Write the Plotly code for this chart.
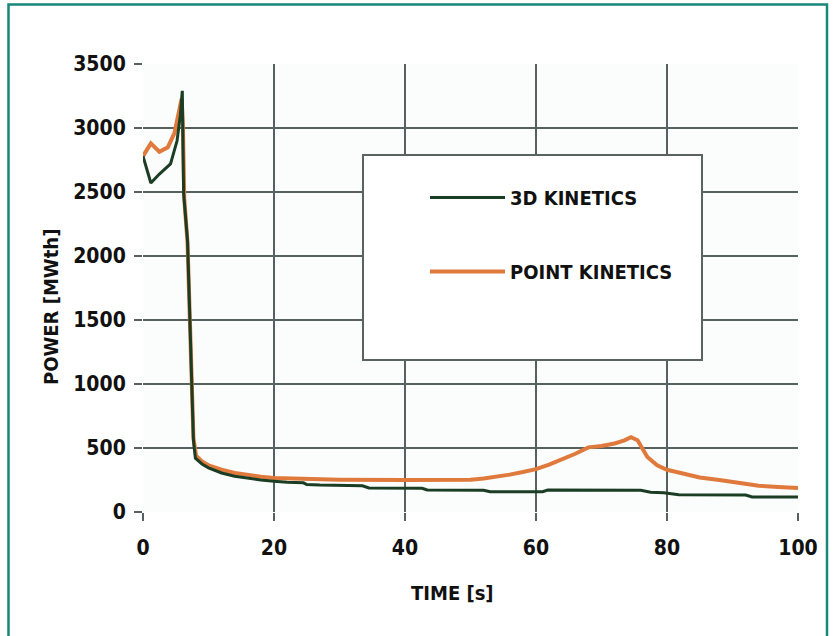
import plotly.graph_objects as go

# ---- data ----
t_3d = [0, 1.2, 2.5, 4.2, 5.2, 5.7, 6.0, 6.2, 6.8, 7.2, 7.7, 8.0, 9, 10, 12, 14, 16, 18, 20, 22,
        24.5, 25, 27, 33.5, 34.5, 42.6, 43.4, 52, 53, 61, 61.8, 76, 77.5, 79.5, 81.8, 92, 93, 100]
p_3d = [2780, 2570, 2640, 2720, 2900, 3100, 3290, 2490, 2120, 1480, 560, 420, 375, 345, 305, 280, 262, 250, 240, 232,
        228, 215, 210, 205, 188, 185, 172, 170, 158, 158, 172, 170, 155, 150, 135, 133, 118, 118]

t_pk = [0, 0.6, 1.2, 2.5, 3.8, 4.8, 5.5, 5.9, 6.1, 6.3, 6.8, 7.2, 7.7, 8.1, 9, 10, 12, 14, 16, 18, 20, 25, 30,
        40, 50, 52, 54, 56, 58, 60, 62, 64, 66, 68, 70, 72, 73.5, 74.5, 75.5, 77, 78.5, 80, 82, 85, 88, 91,
        94, 97, 100]
p_pk = [2780, 2830, 2880, 2815, 2850, 2960, 3120, 3230, 3000, 2450, 2100, 1470, 580, 440, 395, 365, 330, 305,
        288, 275, 265, 258, 252, 250, 252, 262, 275, 292, 312, 335, 370, 410, 455, 505, 515, 535, 560, 585,
        560, 430, 365, 330, 305, 270, 250, 225, 205, 195, 188]

x_ticks = [0, 20, 40, 60, 80, 100]
y_ticks = [0, 500, 1000, 1500, 2000, 2500, 3000, 3500]

name_3d = "3D KINETICS"
name_pk = "POINT KINETICS"
x_title = "TIME [s]"
y_title = "POWER [MWth]"

FONT = "DejaVu Sans Condensed, Liberation Sans Narrow, Roboto, sans-serif"
GREEN = "#1b3d24"
ORANGE = "#e07a3c"
GRID = "#56605e"
TEAL = "#17877a"

W, H = 834, 636
L, R, T, B = 143, 36, 64, 124
PW, PH = W - L - R, H - T - B


def px(x):
    return (x - L) / PW


def py(y):
    return (H - B - y) / PH


fig = go.Figure()
fig.add_trace(go.Scatter(x=t_pk, y=p_pk, mode="lines", name=name_pk,
                         line=dict(color=ORANGE, width=4), legendrank=2, legendgroup="b"))
fig.add_trace(go.Scatter(x=t_3d, y=p_3d, mode="lines", name=name_3d,
                         line=dict(color=GREEN, width=3), legendrank=1, legendgroup="a"))

axis_common = dict(showgrid=True, gridcolor=GRID, gridwidth=1.6, zeroline=False,
                   showline=False, ticks="outside", ticklen=8, tickwidth=1.6, tickcolor=GRID,
                   tickfont=dict(family=FONT, size=21, color="#111111", weight="bold"))

fig.update_xaxes(range=[0, 100], tickvals=x_ticks, ticklabelstandoff=9, **axis_common)
fig.update_yaxes(range=[0, 3500], tickvals=y_ticks, ticklabelstandoff=4, **axis_common)

shapes = [
    # outer teal frame
    dict(type="rect", xref="paper", yref="paper", x0=px(8.5), x1=px(827), y0=py(660), y1=py(4.5),
         line=dict(color=TEAL, width=2.5), fillcolor="rgba(0,0,0,0)", layer="above"),
    # legend box
    dict(type="rect", xref="paper", yref="paper", x0=px(363), x1=px(702), y0=py(360), y1=py(155),
         line=dict(color="#5b6361", width=2), fillcolor="white", layer="above"),
]

annotations = [
    dict(text=x_title, xref="paper", yref="paper", x=px(452), y=py(593),
         showarrow=False, xanchor="center", yanchor="middle",
         font=dict(family=FONT, size=20, color="#111111", weight="bold")),
    dict(text=y_title, xref="paper", yref="paper", x=px(51), y=py(307),
         showarrow=False, xanchor="center", yanchor="middle", textangle=-90,
         font=dict(family=FONT, size=20, color="#111111", weight="bold")),
]

fig.update_layout(
    width=W, height=H,
    margin=dict(l=L, r=R, t=T, b=B),
    paper_bgcolor="white", plot_bgcolor="#fbfcfc",
    shapes=shapes, annotations=annotations,
    showlegend=True,
    legend=dict(x=px(425), y=py(178), xanchor="left", yanchor="top",
                bgcolor="rgba(0,0,0,0)", borderwidth=0,
                traceorder="grouped", tracegroupgap=45, itemwidth=75,
                font=dict(family=FONT, size=20, color="#111111", weight="bold")),
)

fig.write_html("out.html")
